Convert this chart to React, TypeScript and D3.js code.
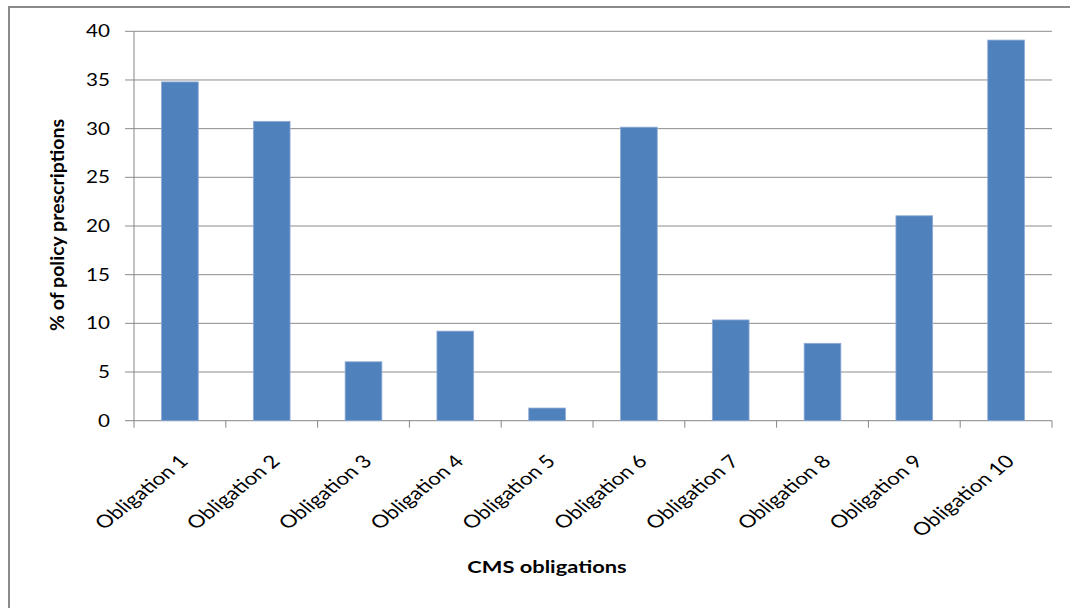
import React from "react";
import * as d3 from "d3";

const categories = [
  "Obligation 1",
  "Obligation 2",
  "Obligation 3",
  "Obligation 4",
  "Obligation 5",
  "Obligation 6",
  "Obligation 7",
  "Obligation 8",
  "Obligation 9",
  "Obligation 10",
];
const values = [34.8, 30.75, 6.05, 9.2, 1.3, 30.15, 10.35, 7.95, 21.05, 39.1];
const yTicks = [0, 5, 10, 15, 20, 25, 30, 35, 40];

const W = 1070;
const H = 608;
const left = 134;
const right = 1052;
const top = 31.3;
const bottom = 420.7;
const FONT = "Lato, 'Open Sans', 'Liberation Sans', sans-serif";
const AXIS = "#868686";
// labels are drawn with a slightly widened face
const SX = 1.25;

export default function App() {
  const x = d3.scaleBand<string>().domain(categories).range([left, right]).paddingInner(0.6).paddingOuter(0.3);
  const band = d3.scaleBand<string>().domain(categories).range([left, right]);
  const y = d3.scaleLinear().domain([0, 40]).range([bottom, top]);

  return (
    <svg
      width={W}
      height={H}
      style={{ position: "absolute", left: 0, top: 0, background: "#fff" }}
    >
      {/* chart frame */}
      <rect x={9} y={7} width={1080} height={640} fill="#fff" stroke="#8a8a8a" strokeWidth={2} />

      {/* horizontal gridlines and y tick labels */}
      {yTicks.map((t) => (
        <g key={t}>
          <line x1={125} x2={right} y1={y(t)} y2={y(t)} stroke={t === 0 ? AXIS : "#8c8c8c"} strokeWidth={1} />
          <text
            transform={`translate(110, ${y(t)}) scale(${SX}, 1)`}
            dy="0.36em"
            textAnchor="end"
            fontFamily={FONT}
            fontSize={16.5}
            fill="#000"
          >
            {t}
          </text>
        </g>
      ))}

      {/* y axis */}
      <line x1={left} x2={left} y1={top} y2={bottom} stroke={AXIS} strokeWidth={1} />

      {/* x axis ticks between categories */}
      {[...categories.map((c) => band(c) as number), right].map((px, i) => (
        <line key={i} x1={px} x2={px} y1={bottom} y2={bottom + 7} stroke={AXIS} strokeWidth={1} />
      ))}

      {/* bars */}
      {categories.map((c, i) => (
        <rect
          key={c}
          x={x(c)}
          y={y(values[i])}
          width={x.bandwidth()}
          height={bottom - y(values[i])}
          fill="#4f81bd"
          stroke="#8eaad6"
          strokeWidth={0.8}
        />
      ))}

      {/* category labels */}
      {categories.map((c) => {
        const cx = (band(c) as number) + band.bandwidth() / 2 + 4;
        const cy = 458;
        return (
          <text
            key={c}
            transform={`translate(${cx}, ${cy}) scale(${SX}, 1) rotate(-45)`}
            textAnchor="end"
            dy="0.35em"
            fontFamily={FONT}
            fontSize={17.8}
            fill="#000"
          >
            {c}
          </text>
        );
      })}

      {/* axis titles */}
      <text
        transform={`translate(64, 225) rotate(-90)`}
        textAnchor="middle"
        fontFamily={FONT}
        fontSize={19.5}
        fontWeight="bold"
        fill="#000"
      >
        % of policy prescriptions
      </text>
      <text
        transform={`translate(547, 573) scale(${SX}, 1)`}
        textAnchor="middle"
        fontFamily={FONT}
        fontSize={17.5}
        fontWeight="bold"
        fill="#000"
      >
        CMS obligations
      </text>
    </svg>
  );
}
